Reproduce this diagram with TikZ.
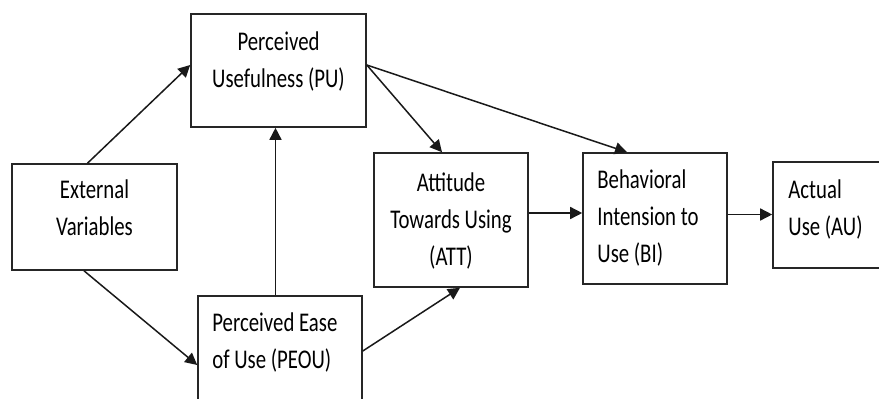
\documentclass[tikz,border=0pt]{standalone}
\usepackage{fontspec}
\setmainfont[FakeStretch=0.77]{Carlito}
\usetikzlibrary{positioning,arrows.meta}

\tikzset{
  box/.style={draw=black!85,line width=1.6pt,inner sep=0pt},
  lbl/.style={inner sep=0pt,font=\fontsize{27}{37}\selectfont},
  link/.style={->,line width=1.5pt,black!90}
}

\begin{document}
\begin{tikzpicture}[x=1pt,y=-1pt,>={Triangle[length=12pt,width=12pt]}]

\useasboundingbox (0,0) rectangle (879,399);
\clip (0,0) rectangle (879,399);

% boxes
\node[box,minimum width=175pt,minimum height=113pt] (pu) at (278.5,70.5) {};
\node[box,minimum width=165pt,minimum height=106pt] (ext) at (94.5,217) {};
\node[box,minimum width=164pt,minimum height=110pt] (peou) at (280,351) {};
\node[box,minimum width=154pt,minimum height=134pt] (att) at (451,220) {};
\node[box,minimum width=144pt,minimum height=131pt] (bi) at (655,218.5) {};
\node[box,minimum width=116pt,minimum height=106pt] (au) at (831,215) {};

% texts
\node[lbl,align=center,below=18pt of pu.north] (pu-t) {Perceived\\Usefulness (PU)};
\node[lbl,align=center,below=16pt of ext.north] (ext-t) {External\\Variables};
\node[lbl,align=left,below right=17pt and 15pt of peou.north west] (peou-t) {Perceived Ease\\of Use (PEOU)};
\node[lbl,align=center,below=20pt of att.north] (att-t) {Attitude\\Towards Using\\(ATT)};
\node[lbl,align=left,below right=17pt and 15pt of bi.north west] (bi-t) {Behavioral\\Intension to\\Use (BI)};
\node[lbl,align=left,below right=18pt and 16pt of au.north west] (au-t) {Actual\\Use (AU)};

% arrows
\draw[link] ([xshift=-7pt]ext.north) -- ([yshift=5.5pt]pu.west);
\draw[link] ([xshift=-10.5pt]ext.south) -- ([yshift=-14pt]peou.west);
\draw[link] ([xshift=-4.5pt]peou.north) -- ([xshift=-3pt]pu.south);
\draw[link] (peou.east) -- ([xshift=9pt]att.south);
\draw[link] ([yshift=5.5pt]pu.east) -- ([xshift=-9pt]att.north);
\draw[link] ([yshift=5.5pt]pu.east) -- ([xshift=-28pt]bi.north);
\draw[link] ([yshift=7pt]att.east) -- ([yshift=7pt]att.east -| bi.west);
\draw[link] ([yshift=4pt]bi.east) -- ([yshift=4pt]bi.east -| au.west);

\end{tikzpicture}
\end{document}
